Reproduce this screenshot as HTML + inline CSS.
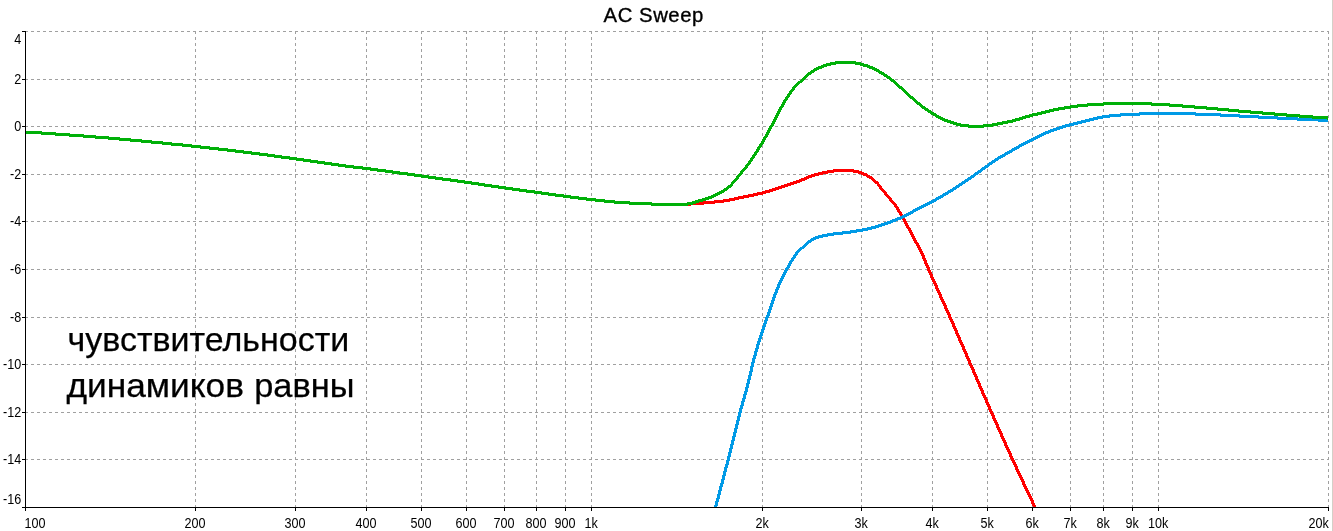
<!DOCTYPE html>
<html lang="ru"><head><meta charset="utf-8"><title>AC Sweep</title>
<style>
html,body{margin:0;padding:0;background:#fff;}
body{width:1333px;height:531px;overflow:hidden;position:relative;font-family:"Liberation Sans",sans-serif;}
svg{position:absolute;left:0;top:0;display:block;}
.grid line{stroke:#a0a0a0;stroke-width:1;stroke-dasharray:3 3;shape-rendering:crispEdges;}
.axis line{stroke:#000;stroke-width:1;shape-rendering:crispEdges;}
.lbl text{font-family:"Liberation Sans",sans-serif;font-size:14px;fill:#000;}
.curve{stroke:none;shape-rendering:crispEdges;}
.title{font-family:"Liberation Sans",sans-serif;font-size:20.3px;fill:#000;letter-spacing:0.55px;stroke:#000;stroke-width:0.35px;}
.note{font-family:"Liberation Sans","DejaVu Sans",sans-serif;font-size:33.2px;fill:#000;stroke:#000;stroke-width:0.25px;}
</style></head><body>
<svg width="1333" height="531" viewBox="0 0 1333 531">
<rect x="0" y="0" width="1333" height="531" fill="#ffffff"/>
<rect x="1332" y="0" width="1" height="531" fill="#d4d0c8" shape-rendering="crispEdges"/>
<g class="grid">
<line x1="25" y1="31.5" x2="1329" y2="31.5"/>
<line x1="25" y1="79.5" x2="1329" y2="79.5"/>
<line x1="25" y1="126.5" x2="1329" y2="126.5"/>
<line x1="25" y1="174.5" x2="1329" y2="174.5"/>
<line x1="25" y1="221.5" x2="1329" y2="221.5"/>
<line x1="25" y1="269.5" x2="1329" y2="269.5"/>
<line x1="25" y1="317.5" x2="1329" y2="317.5"/>
<line x1="25" y1="364.5" x2="1329" y2="364.5"/>
<line x1="25" y1="412.5" x2="1329" y2="412.5"/>
<line x1="25" y1="459.5" x2="1329" y2="459.5"/>
<line x1="195.5" y1="31" x2="195.5" y2="507"/>
<line x1="295.5" y1="31" x2="295.5" y2="507"/>
<line x1="366.5" y1="31" x2="366.5" y2="507"/>
<line x1="421.5" y1="31" x2="421.5" y2="507"/>
<line x1="466.5" y1="31" x2="466.5" y2="507"/>
<line x1="504.5" y1="31" x2="504.5" y2="507"/>
<line x1="536.5" y1="31" x2="536.5" y2="507"/>
<line x1="565.5" y1="31" x2="565.5" y2="507"/>
<line x1="591.5" y1="31" x2="591.5" y2="507"/>
<line x1="762.5" y1="31" x2="762.5" y2="507"/>
<line x1="861.5" y1="31" x2="861.5" y2="507"/>
<line x1="932.5" y1="31" x2="932.5" y2="507"/>
<line x1="987.5" y1="31" x2="987.5" y2="507"/>
<line x1="1032.5" y1="31" x2="1032.5" y2="507"/>
<line x1="1070.5" y1="31" x2="1070.5" y2="507"/>
<line x1="1103.5" y1="31" x2="1103.5" y2="507"/>
<line x1="1132.5" y1="31" x2="1132.5" y2="507"/>
<line x1="1158.5" y1="31" x2="1158.5" y2="507"/>
<line x1="1328.5" y1="31" x2="1328.5" y2="507"/>
</g>
<g class="axis">
<line x1="25.5" y1="31" x2="25.5" y2="511"/>
<line x1="22" y1="507.5" x2="1329" y2="507.5"/>
<line x1="22" y1="31.5" x2="26" y2="31.5"/>
<line x1="22" y1="79.5" x2="26" y2="79.5"/>
<line x1="22" y1="126.5" x2="26" y2="126.5"/>
<line x1="22" y1="174.5" x2="26" y2="174.5"/>
<line x1="22" y1="221.5" x2="26" y2="221.5"/>
<line x1="22" y1="269.5" x2="26" y2="269.5"/>
<line x1="22" y1="317.5" x2="26" y2="317.5"/>
<line x1="22" y1="364.5" x2="26" y2="364.5"/>
<line x1="22" y1="412.5" x2="26" y2="412.5"/>
<line x1="22" y1="459.5" x2="26" y2="459.5"/>
<line x1="195.5" y1="507" x2="195.5" y2="511"/>
<line x1="295.5" y1="507" x2="295.5" y2="511"/>
<line x1="366.5" y1="507" x2="366.5" y2="511"/>
<line x1="421.5" y1="507" x2="421.5" y2="511"/>
<line x1="466.5" y1="507" x2="466.5" y2="511"/>
<line x1="504.5" y1="507" x2="504.5" y2="511"/>
<line x1="536.5" y1="507" x2="536.5" y2="511"/>
<line x1="565.5" y1="507" x2="565.5" y2="511"/>
<line x1="591.5" y1="507" x2="591.5" y2="511"/>
<line x1="762.5" y1="507" x2="762.5" y2="511"/>
<line x1="861.5" y1="507" x2="861.5" y2="511"/>
<line x1="932.5" y1="507" x2="932.5" y2="511"/>
<line x1="987.5" y1="507" x2="987.5" y2="511"/>
<line x1="1032.5" y1="507" x2="1032.5" y2="511"/>
<line x1="1070.5" y1="507" x2="1070.5" y2="511"/>
<line x1="1103.5" y1="507" x2="1103.5" y2="511"/>
<line x1="1132.5" y1="507" x2="1132.5" y2="511"/>
<line x1="1158.5" y1="507" x2="1158.5" y2="511"/>
<line x1="1328.5" y1="507" x2="1328.5" y2="511"/>
</g>
<clipPath id="plot"><rect x="25" y="31" width="1304" height="476"/></clipPath>
<g clip-path="url(#plot)">
<path class="curve" fill="#ff0000" d="M26 131h16v1h-16zM26 132h30v1h-30zM26 133h44v1h-44zM41 134h43v1h-43zM55 135h41v1h-41zM69 136h40v1h-40zM83 137h37v1h-37zM95 138h36v1h-36zM108 139h34v1h-34zM119 140h33v1h-33zM130 141h33v1h-33zM141 142h31v1h-31zM151 143h32v1h-32zM162 144h30v1h-30zM171 145h30v1h-30zM182 146h28v1h-28zM191 147h28v1h-28zM200 148h28v1h-28zM209 149h27v1h-27zM218 150h26v1h-26zM227 151h25v1h-25zM235 152h25v1h-25zM243 153h25v1h-25zM251 154h24v1h-24zM259 155h23v1h-23zM267 156h23v1h-23zM274 157h23v1h-23zM281 158h23v1h-23zM289 159h22v1h-22zM296 160h22v1h-22zM303 161h22v1h-22zM310 162h22v1h-22zM317 163h22v1h-22zM324 164h22v1h-22zM331 165h23v1h-23zM338 166h25v1h-25zM345 167h26v1h-26zM353 168h25v1h-25zM362 169h24v1h-24zM833 169h21v1h-21zM370 170h23v1h-23zM827 170h32v1h-32zM377 171h23v1h-23zM822 171h40v1h-40zM385 172h23v1h-23zM818 172h16v1h-16zM853 172h11v1h-11zM392 173h23v1h-23zM814 173h14v1h-14zM858 173h9v1h-9zM399 174h23v1h-23zM811 174h12v1h-12zM861 174h7v1h-7zM407 175h22v1h-22zM808 175h11v1h-11zM863 175h7v1h-7zM414 176h22v1h-22zM806 176h9v1h-9zM866 176h6v1h-6zM421 177h22v1h-22zM804 177h8v1h-8zM867 177h6v1h-6zM428 178h23v1h-23zM801 178h8v1h-8zM869 178h5v1h-5zM435 179h23v1h-23zM799 179h8v1h-8zM871 179h4v1h-4zM442 180h23v1h-23zM796 180h9v1h-9zM872 180h4v1h-4zM450 181h22v1h-22zM793 181h9v1h-9zM873 181h5v1h-5zM457 182h22v1h-22zM790 182h10v1h-10zM874 182h5v1h-5zM464 183h21v1h-21zM787 183h10v1h-10zM875 183h4v1h-4zM471 184h21v1h-21zM784 184h10v1h-10zM877 184h3v1h-3zM478 185h21v1h-21zM781 185h10v1h-10zM877 185h4v1h-4zM484 186h22v1h-22zM778 186h10v1h-10zM878 186h4v1h-4zM491 187h22v1h-22zM775 187h10v1h-10zM879 187h3v1h-3zM498 188h22v1h-22zM772 188h10v1h-10zM879 188h4v1h-4zM505 189h22v1h-22zM769 189h10v1h-10zM880 189h4v1h-4zM512 190h23v1h-23zM765 190h11v1h-11zM881 190h4v1h-4zM519 191h23v1h-23zM762 191h11v1h-11zM882 191h4v1h-4zM526 192h23v1h-23zM757 192h13v1h-13zM883 192h4v1h-4zM534 193h22v1h-22zM753 193h13v1h-13zM884 193h3v1h-3zM541 194h23v1h-23zM748 194h15v1h-15zM884 194h4v1h-4zM548 195h23v1h-23zM743 195h15v1h-15zM885 195h4v1h-4zM555 196h24v1h-24zM738 196h16v1h-16zM886 196h4v1h-4zM563 197h24v1h-24zM734 197h15v1h-15zM887 197h4v1h-4zM570 198h26v1h-26zM729 198h15v1h-15zM888 198h4v1h-4zM578 199h27v1h-27zM723 199h16v1h-16zM889 199h3v1h-3zM586 200h29v1h-29zM714 200h21v1h-21zM889 200h4v1h-4zM595 201h35v1h-35zM703 201h27v1h-27zM890 201h4v1h-4zM604 202h48v1h-48zM690 202h34v1h-34zM891 202h4v1h-4zM614 203h101v1h-101zM892 203h4v1h-4zM629 204h75v1h-75zM893 204h4v1h-4zM651 205h40v1h-40zM894 205h3v1h-3zM894 206h4v1h-4zM895 207h4v1h-4zM896 208h3v1h-3zM896 209h4v1h-4zM897 210h3v1h-3zM897 211h4v1h-4zM898 212h4v1h-4zM899 213h3v1h-3zM899 214h4v1h-4zM900 215h3v1h-3zM900 216h4v1h-4zM901 217h4v1h-4zM902 218h3v1h-3zM902 219h4v1h-4zM903 220h3v1h-3zM903 221h4v1h-4zM904 222h3v1h-3zM904 223h4v1h-4zM905 224h3v1h-3zM905 225h4v1h-4zM906 226h3v1h-3zM906 227h4v1h-4zM907 228h4v1h-4zM908 229h3v1h-3zM908 230h4v1h-4zM909 231h3v1h-3zM909 232h4v1h-4zM910 233h3v1h-3zM910 234h4v1h-4zM911 235h3v1h-3zM911 236h4v1h-4zM912 237h3v1h-3zM912 238h4v1h-4zM913 239h3v1h-3zM913 240h4v1h-4zM914 241h3v1h-3zM914 242h4v1h-4zM915 243h4v1h-4zM916 244h3v1h-3zM916 245h4v1h-4zM917 246h3v1h-3zM917 247h4v1h-4zM918 248h3v1h-3zM918 249h4v1h-4zM919 250h3v1h-3zM919 251h4v1h-4zM920 252h3v1h-3zM920 253h4v1h-4zM921 254h3v1h-3zM921 255h4v1h-4zM922 256h3v2h-3zM922 258h4v1h-4zM923 259h3v1h-3zM923 260h4v1h-4zM924 261h3v2h-3zM924 263h4v1h-4zM925 264h3v1h-3zM925 265h4v1h-4zM926 266h3v1h-3zM926 267h4v1h-4zM927 268h3v2h-3zM927 270h4v1h-4zM928 271h3v1h-3zM928 272h4v1h-4zM929 273h3v1h-3zM929 274h4v1h-4zM930 275h3v2h-3zM930 277h4v1h-4zM931 278h3v1h-3zM931 279h4v1h-4zM932 280h3v1h-3zM932 281h4v1h-4zM933 282h3v1h-3zM933 283h4v1h-4zM934 284h3v1h-3zM934 285h4v1h-4zM935 286h3v2h-3zM935 288h4v1h-4zM936 289h3v1h-3zM936 290h4v1h-4zM937 291h3v1h-3zM937 292h4v1h-4zM938 293h3v1h-3zM938 294h4v1h-4zM939 295h3v2h-3zM939 297h4v1h-4zM940 298h3v1h-3zM940 299h4v1h-4zM941 300h3v1h-3zM941 301h4v1h-4zM942 302h3v1h-3zM942 303h4v1h-4zM943 304h3v1h-3zM943 305h4v1h-4zM944 306h3v2h-3zM944 308h4v1h-4zM945 309h3v1h-3zM945 310h4v1h-4zM946 311h3v1h-3zM946 312h4v1h-4zM947 313h3v1h-3zM947 314h4v1h-4zM948 315h3v2h-3zM948 317h4v1h-4zM949 318h3v1h-3zM949 319h4v1h-4zM950 320h3v1h-3zM950 321h4v1h-4zM951 322h3v1h-3zM951 323h4v1h-4zM952 324h3v2h-3zM952 326h4v1h-4zM953 327h3v1h-3zM953 328h4v1h-4zM954 329h3v1h-3zM954 330h4v1h-4zM955 331h3v2h-3zM955 333h4v1h-4zM956 334h3v1h-3zM956 335h4v1h-4zM957 336h3v1h-3zM957 337h4v1h-4zM958 338h3v2h-3zM958 340h4v1h-4zM959 341h3v1h-3zM959 342h4v1h-4zM960 343h3v1h-3zM960 344h4v1h-4zM961 345h3v1h-3zM961 346h4v1h-4zM962 347h3v2h-3zM962 349h4v1h-4zM963 350h3v1h-3zM963 351h4v1h-4zM964 352h3v1h-3zM964 353h4v1h-4zM965 354h3v2h-3zM965 356h4v1h-4zM966 357h3v1h-3zM966 358h4v1h-4zM967 359h3v1h-3zM967 360h4v1h-4zM968 361h3v2h-3zM968 363h4v1h-4zM969 364h3v1h-3zM969 365h4v1h-4zM970 366h3v1h-3zM970 367h4v1h-4zM971 368h3v1h-3zM971 369h4v1h-4zM972 370h3v2h-3zM972 372h4v1h-4zM973 373h3v1h-3zM973 374h4v1h-4zM974 375h3v1h-3zM974 376h4v1h-4zM975 377h3v2h-3zM975 379h4v1h-4zM976 380h3v1h-3zM976 381h4v1h-4zM977 382h3v1h-3zM977 383h4v1h-4zM978 384h3v2h-3zM978 386h4v1h-4zM979 387h3v1h-3zM979 388h4v1h-4zM980 389h3v1h-3zM980 390h4v1h-4zM981 391h3v2h-3zM981 393h4v1h-4zM982 394h3v1h-3zM982 395h4v1h-4zM983 396h3v1h-3zM983 397h4v1h-4zM984 398h3v1h-3zM984 399h4v1h-4zM985 400h3v2h-3zM985 402h4v1h-4zM986 403h3v1h-3zM986 404h4v1h-4zM987 405h3v1h-3zM987 406h4v1h-4zM988 407h3v2h-3zM988 409h4v1h-4zM989 410h3v1h-3zM989 411h4v1h-4zM990 412h3v1h-3zM990 413h4v1h-4zM991 414h3v1h-3zM991 415h4v1h-4zM992 416h3v2h-3zM992 418h4v1h-4zM993 419h3v1h-3zM993 420h4v1h-4zM994 421h3v1h-3zM994 422h4v1h-4zM995 423h3v1h-3zM995 424h4v1h-4zM996 425h3v2h-3zM996 427h4v1h-4zM997 428h3v1h-3zM997 429h4v1h-4zM998 430h3v1h-3zM998 431h4v1h-4zM999 432h3v1h-3zM999 433h4v1h-4zM1000 434h3v2h-3zM1000 436h4v1h-4zM1001 437h3v1h-3zM1001 438h4v1h-4zM1002 439h3v1h-3zM1002 440h4v1h-4zM1003 441h3v1h-3zM1003 442h4v1h-4zM1004 443h3v2h-3zM1004 445h4v1h-4zM1005 446h3v1h-3zM1005 447h4v1h-4zM1006 448h3v1h-3zM1006 449h4v1h-4zM1007 450h3v1h-3zM1007 451h4v1h-4zM1008 452h3v1h-3zM1008 453h4v1h-4zM1009 454h3v2h-3zM1009 456h4v1h-4zM1010 457h3v1h-3zM1010 458h4v1h-4zM1011 459h3v1h-3zM1011 460h4v1h-4zM1012 461h3v1h-3zM1012 462h4v1h-4zM1013 463h3v1h-3zM1013 464h4v1h-4zM1014 465h3v1h-3zM1014 466h4v1h-4zM1015 467h3v2h-3zM1015 469h4v1h-4zM1016 470h3v1h-3zM1016 471h4v1h-4zM1017 472h3v1h-3zM1017 473h4v1h-4zM1018 474h3v1h-3zM1018 475h4v1h-4zM1019 476h3v1h-3zM1019 477h4v1h-4zM1020 478h3v1h-3zM1020 479h4v1h-4zM1021 480h3v1h-3zM1021 481h4v1h-4zM1022 482h3v2h-3zM1022 484h4v1h-4zM1023 485h3v1h-3zM1023 486h4v1h-4zM1024 487h3v1h-3zM1024 488h4v1h-4zM1025 489h3v1h-3zM1025 490h4v1h-4zM1026 491h3v1h-3zM1026 492h4v1h-4zM1027 493h3v1h-3zM1027 494h4v1h-4zM1028 495h3v1h-3zM1028 496h4v1h-4zM1029 497h3v1h-3zM1029 498h4v1h-4zM1030 499h3v1h-3zM1030 500h4v1h-4zM1031 501h3v2h-3zM1031 503h4v1h-4zM1032 504h3v1h-3zM1032 505h4v1h-4zM1033 506h3v1h-3z"/>
<path class="curve" fill="#009ae6" d="M1139 112h57v1h-57zM1120 113h101v1h-101zM1109 114h131v1h-131zM1102 115h38v1h-38zM1195 115h64v1h-64zM1097 116h24v1h-24zM1220 116h58v1h-58zM1093 117h17v1h-17zM1239 117h59v1h-59zM1089 118h14v1h-14zM1258 118h61v1h-61zM1085 119h13v1h-13zM1277 119h51v1h-51zM1081 120h13v1h-13zM1297 120h31v1h-31zM1077 121h13v1h-13zM1318 121h10v1h-10zM1073 122h13v1h-13zM1069 123h13v1h-13zM1065 124h13v1h-13zM1062 125h12v1h-12zM1059 126h11v1h-11zM1056 127h10v1h-10zM1053 128h10v1h-10zM1050 129h10v1h-10zM1048 130h9v1h-9zM1045 131h9v1h-9zM1043 132h8v1h-8zM1041 133h8v1h-8zM1039 134h7v1h-7zM1037 135h7v1h-7zM1035 136h7v1h-7zM1033 137h7v1h-7zM1031 138h7v1h-7zM1029 139h7v1h-7zM1027 140h7v1h-7zM1025 141h7v1h-7zM1023 142h7v1h-7zM1021 143h7v1h-7zM1019 144h7v1h-7zM1018 145h6v1h-6zM1016 146h6v1h-6zM1014 147h6v1h-6zM1012 148h7v1h-7zM1011 149h6v1h-6zM1009 150h6v1h-6zM1007 151h6v1h-6zM1005 152h7v1h-7zM1004 153h6v1h-6zM1002 154h6v1h-6zM1000 155h6v1h-6zM998 156h7v1h-7zM997 157h6v1h-6zM995 158h6v1h-6zM994 159h5v1h-5zM992 160h6v1h-6zM991 161h5v1h-5zM989 162h6v1h-6zM988 163h5v1h-5zM987 164h5v1h-5zM985 165h5v1h-5zM984 166h5v1h-5zM982 167h6v1h-6zM981 168h5v1h-5zM980 169h5v1h-5zM978 170h5v1h-5zM977 171h5v1h-5zM975 172h6v1h-6zM974 173h5v1h-5zM973 174h5v1h-5zM971 175h5v1h-5zM970 176h5v1h-5zM968 177h6v1h-6zM967 178h5v1h-5zM965 179h6v1h-6zM964 180h5v1h-5zM962 181h6v1h-6zM961 182h5v1h-5zM959 183h6v1h-6zM958 184h5v1h-5zM956 185h6v1h-6zM955 186h5v1h-5zM953 187h6v1h-6zM952 188h5v1h-5zM950 189h6v1h-6zM948 190h6v1h-6zM947 191h6v1h-6zM945 192h6v1h-6zM943 193h6v1h-6zM942 194h6v1h-6zM940 195h6v1h-6zM938 196h6v1h-6zM936 197h7v1h-7zM935 198h6v1h-6zM933 199h6v1h-6zM931 200h6v1h-6zM929 201h7v1h-7zM927 202h7v1h-7zM925 203h7v1h-7zM923 204h7v1h-7zM921 205h7v1h-7zM919 206h7v1h-7zM917 207h7v1h-7zM915 208h7v1h-7zM913 209h7v1h-7zM912 210h6v1h-6zM910 211h6v1h-6zM908 212h6v1h-6zM906 213h7v1h-7zM904 214h7v1h-7zM902 215h7v1h-7zM900 216h7v1h-7zM897 217h8v1h-8zM895 218h8v1h-8zM892 219h9v1h-9zM890 220h8v1h-8zM887 221h9v1h-9zM884 222h9v1h-9zM881 223h10v1h-10zM878 224h10v1h-10zM875 225h10v1h-10zM871 226h11v1h-11zM867 227h12v1h-12zM862 228h14v1h-14zM856 229h16v1h-16zM850 230h18v1h-18zM842 231h21v1h-21zM833 232h24v1h-24zM827 233h24v1h-24zM822 234h21v1h-21zM818 235h16v1h-16zM815 236h13v1h-13zM813 237h10v1h-10zM811 238h8v1h-8zM810 239h6v1h-6zM808 240h6v1h-6zM807 241h5v1h-5zM806 242h5v1h-5zM805 243h4v1h-4zM804 244h4v1h-4zM803 245h4v1h-4zM802 246h4v1h-4zM800 247h5v1h-5zM799 248h5v1h-5zM798 249h4v1h-4zM797 250h4v1h-4zM796 251h4v1h-4zM795 252h4v1h-4zM795 253h3v1h-3zM794 254h4v1h-4zM793 255h4v1h-4zM793 256h3v1h-3zM792 257h4v1h-4zM791 258h4v1h-4zM791 259h3v1h-3zM790 260h4v1h-4zM789 261h4v1h-4zM789 262h3v1h-3zM788 263h4v1h-4zM788 264h3v1h-3zM787 265h4v1h-4zM787 266h3v1h-3zM786 267h4v1h-4zM785 268h4v1h-4zM785 269h3v1h-3zM784 270h4v1h-4zM784 271h3v1h-3zM783 272h4v1h-4zM783 273h3v1h-3zM782 274h4v1h-4zM782 275h3v1h-3zM781 276h4v1h-4zM781 277h3v1h-3zM780 278h4v1h-4zM780 279h3v1h-3zM779 280h4v1h-4zM779 281h3v1h-3zM778 282h4v1h-4zM778 283h3v1h-3zM777 284h4v1h-4zM777 285h3v2h-3zM776 287h4v1h-4zM776 288h3v1h-3zM775 289h4v1h-4zM775 290h3v2h-3zM774 292h4v1h-4zM774 293h3v1h-3zM773 294h4v1h-4zM773 295h3v2h-3zM772 297h4v1h-4zM772 298h3v2h-3zM771 300h4v1h-4zM771 301h3v2h-3zM770 303h4v1h-4zM770 304h3v2h-3zM769 306h4v1h-4zM769 307h3v2h-3zM768 309h4v1h-4zM768 310h3v2h-3zM767 312h4v1h-4zM767 313h3v2h-3zM766 315h4v1h-4zM766 316h3v1h-3zM765 317h4v1h-4zM765 318h3v2h-3zM764 320h4v1h-4zM764 321h3v2h-3zM763 323h4v1h-4zM763 324h3v2h-3zM762 326h4v1h-4zM762 327h3v2h-3zM761 329h4v1h-4zM761 330h3v2h-3zM760 332h4v1h-4zM760 333h3v2h-3zM759 335h4v1h-4zM759 336h3v2h-3zM758 338h4v1h-4zM758 339h3v2h-3zM757 341h4v1h-4zM757 342h3v2h-3zM756 344h4v1h-4zM756 345h3v3h-3zM755 348h4v1h-4zM755 349h3v2h-3zM754 351h4v1h-4zM754 352h3v3h-3zM753 355h4v1h-4zM753 356h3v2h-3zM752 358h4v1h-4zM752 359h3v3h-3zM751 362h4v1h-4zM751 363h3v3h-3zM750 366h4v1h-4zM750 367h3v4h-3zM749 371h4v1h-4zM749 372h3v3h-3zM748 375h4v1h-4zM748 376h3v3h-3zM747 379h4v1h-4zM747 380h3v3h-3zM746 383h4v1h-4zM746 384h3v3h-3zM745 387h4v1h-4zM745 388h3v3h-3zM744 391h4v1h-4zM744 392h3v2h-3zM743 394h4v1h-4zM743 395h3v3h-3zM742 398h4v1h-4zM742 399h3v2h-3zM741 401h4v1h-4zM741 402h3v3h-3zM740 405h4v1h-4zM740 406h3v2h-3zM739 408h4v1h-4zM739 409h3v3h-3zM738 412h4v1h-4zM738 413h3v3h-3zM737 416h4v1h-4zM737 417h3v3h-3zM736 420h4v1h-4zM736 421h3v3h-3zM735 424h4v1h-4zM735 425h3v3h-3zM734 428h4v1h-4zM734 429h3v3h-3zM733 432h4v1h-4zM733 433h3v3h-3zM732 436h4v1h-4zM732 437h3v3h-3zM731 440h4v1h-4zM731 441h3v3h-3zM730 444h4v1h-4zM730 445h3v3h-3zM729 448h4v1h-4zM729 449h3v3h-3zM728 452h4v1h-4zM728 453h3v3h-3zM727 456h4v1h-4zM727 457h3v3h-3zM726 460h4v1h-4zM726 461h3v3h-3zM725 464h4v1h-4zM725 465h3v2h-3zM724 467h4v1h-4zM724 468h3v3h-3zM723 471h4v1h-4zM723 472h3v3h-3zM722 475h4v1h-4zM722 476h3v3h-3zM721 479h4v1h-4zM721 480h3v3h-3zM720 483h4v1h-4zM720 484h3v2h-3zM719 486h4v1h-4zM719 487h3v3h-3zM718 490h4v1h-4zM718 491h3v3h-3zM717 494h4v1h-4zM717 495h3v3h-3zM716 498h4v1h-4zM716 499h3v2h-3zM715 501h4v1h-4zM715 502h3v3h-3zM714 505h4v1h-4zM714 506h3v1h-3z"/>
<path class="curve" fill="#00b008" d="M835 61h21v1h-21zM830 62h31v1h-31zM826 63h38v1h-38zM823 64h13v1h-13zM855 64h13v1h-13zM821 65h10v1h-10zM860 65h10v1h-10zM818 66h9v1h-9zM863 66h10v1h-10zM816 67h8v1h-8zM867 67h8v1h-8zM814 68h8v1h-8zM869 68h8v1h-8zM813 69h6v1h-6zM872 69h7v1h-7zM811 70h6v1h-6zM874 70h6v1h-6zM810 71h5v1h-5zM876 71h6v1h-6zM808 72h6v1h-6zM878 72h6v1h-6zM807 73h5v1h-5zM879 73h6v1h-6zM806 74h5v1h-5zM881 74h6v1h-6zM805 75h4v1h-4zM883 75h5v1h-5zM804 76h4v1h-4zM884 76h6v1h-6zM803 77h4v1h-4zM886 77h5v1h-5zM802 78h4v1h-4zM887 78h5v1h-5zM801 79h4v1h-4zM889 79h5v1h-5zM800 80h4v1h-4zM890 80h5v1h-5zM798 81h5v1h-5zM891 81h5v1h-5zM797 82h5v1h-5zM893 82h4v1h-4zM796 83h4v1h-4zM894 83h4v1h-4zM795 84h4v1h-4zM895 84h4v1h-4zM794 85h4v1h-4zM896 85h4v1h-4zM793 86h4v1h-4zM897 86h5v1h-5zM792 87h4v1h-4zM898 87h5v1h-5zM792 88h3v1h-3zM899 88h5v1h-5zM791 89h4v1h-4zM901 89h4v1h-4zM790 90h4v1h-4zM902 90h4v1h-4zM789 91h4v1h-4zM903 91h4v1h-4zM789 92h3v1h-3zM904 92h4v1h-4zM788 93h4v1h-4zM905 93h4v1h-4zM787 94h4v1h-4zM906 94h4v1h-4zM787 95h3v1h-3zM907 95h4v1h-4zM786 96h4v1h-4zM908 96h5v1h-5zM785 97h4v1h-4zM909 97h5v1h-5zM785 98h3v1h-3zM910 98h5v1h-5zM784 99h4v1h-4zM912 99h4v1h-4zM783 100h4v1h-4zM913 100h4v1h-4zM783 101h3v1h-3zM914 101h4v1h-4zM782 102h4v1h-4zM915 102h5v1h-5zM1103 102h49v1h-49zM782 103h3v1h-3zM916 103h5v1h-5zM1087 103h83v1h-83zM781 104h4v1h-4zM917 104h5v1h-5zM1077 104h106v1h-106zM781 105h3v1h-3zM919 105h4v1h-4zM1070 105h34v1h-34zM1151 105h44v1h-44zM780 106h4v1h-4zM920 106h5v1h-5zM1064 106h24v1h-24zM1169 106h38v1h-38zM779 107h4v1h-4zM921 107h5v1h-5zM1058 107h20v1h-20zM1182 107h36v1h-36zM779 108h3v1h-3zM922 108h6v1h-6zM1053 108h18v1h-18zM1194 108h35v1h-35zM778 109h4v1h-4zM924 109h5v1h-5zM1049 109h16v1h-16zM1206 109h33v1h-33zM778 110h3v1h-3zM925 110h6v1h-6zM1045 110h14v1h-14zM1217 110h34v1h-34zM777 111h4v1h-4zM927 111h5v1h-5zM1041 111h13v1h-13zM1228 111h35v1h-35zM777 112h3v1h-3zM928 112h6v1h-6zM1037 112h13v1h-13zM1238 112h37v1h-37zM776 113h4v1h-4zM930 113h6v1h-6zM1032 113h14v1h-14zM1250 113h37v1h-37zM776 114h3v1h-3zM931 114h6v1h-6zM1029 114h13v1h-13zM1262 114h38v1h-38zM775 115h4v1h-4zM933 115h6v1h-6zM1025 115h13v1h-13zM1274 115h39v1h-39zM775 116h3v1h-3zM935 116h6v1h-6zM1022 116h11v1h-11zM1286 116h42v1h-42zM774 117h4v1h-4zM936 117h7v1h-7zM1019 117h11v1h-11zM1299 117h29v1h-29zM774 118h3v1h-3zM938 118h7v1h-7zM1015 118h11v1h-11zM1312 118h16v1h-16zM773 119h4v1h-4zM940 119h8v1h-8zM1012 119h11v1h-11zM1327 119h1v1h-1zM773 120h3v1h-3zM942 120h9v1h-9zM1007 120h13v1h-13zM772 121h4v1h-4zM944 121h10v1h-10zM1002 121h14v1h-14zM772 122h3v1h-3zM947 122h10v1h-10zM997 122h16v1h-16zM771 123h4v1h-4zM950 123h11v1h-11zM992 123h16v1h-16zM771 124h3v1h-3zM953 124h16v1h-16zM983 124h20v1h-20zM770 125h4v1h-4zM956 125h42v1h-42zM769 126h4v1h-4zM960 126h33v1h-33zM769 127h3v1h-3zM968 127h16v1h-16zM768 128h4v1h-4zM768 129h3v1h-3zM767 130h4v1h-4zM26 131h16v1h-16zM767 131h3v1h-3zM26 132h30v1h-30zM766 132h4v1h-4zM26 133h44v1h-44zM766 133h3v1h-3zM41 134h43v1h-43zM765 134h4v1h-4zM55 135h41v1h-41zM765 135h3v1h-3zM69 136h40v1h-40zM764 136h4v1h-4zM83 137h37v1h-37zM763 137h4v1h-4zM95 138h36v1h-36zM763 138h3v1h-3zM108 139h34v1h-34zM762 139h4v1h-4zM119 140h33v1h-33zM762 140h3v1h-3zM130 141h33v1h-33zM761 141h4v1h-4zM141 142h31v1h-31zM761 142h3v1h-3zM151 143h32v1h-32zM760 143h4v1h-4zM162 144h30v1h-30zM759 144h4v1h-4zM171 145h30v1h-30zM759 145h3v1h-3zM182 146h28v1h-28zM758 146h4v1h-4zM191 147h28v1h-28zM757 147h4v1h-4zM200 148h28v1h-28zM757 148h3v1h-3zM209 149h27v1h-27zM756 149h4v1h-4zM218 150h26v1h-26zM756 150h3v1h-3zM227 151h25v1h-25zM755 151h4v1h-4zM235 152h25v1h-25zM754 152h4v1h-4zM243 153h25v1h-25zM754 153h3v1h-3zM251 154h24v1h-24zM753 154h4v1h-4zM259 155h23v1h-23zM752 155h4v1h-4zM267 156h23v1h-23zM752 156h3v1h-3zM274 157h23v1h-23zM751 157h4v1h-4zM281 158h23v1h-23zM750 158h4v1h-4zM289 159h22v1h-22zM750 159h3v1h-3zM296 160h22v1h-22zM749 160h4v1h-4zM303 161h22v1h-22zM748 161h4v1h-4zM310 162h22v1h-22zM748 162h3v1h-3zM317 163h22v1h-22zM747 163h4v1h-4zM324 164h22v1h-22zM746 164h4v1h-4zM331 165h23v1h-23zM745 165h4v1h-4zM338 166h25v1h-25zM745 166h3v1h-3zM345 167h26v1h-26zM744 167h4v1h-4zM353 168h25v1h-25zM743 168h4v1h-4zM362 169h24v1h-24zM742 169h4v1h-4zM370 170h23v1h-23zM741 170h4v1h-4zM377 171h23v1h-23zM740 171h4v1h-4zM385 172h23v1h-23zM740 172h3v1h-3zM392 173h23v1h-23zM739 173h4v1h-4zM399 174h23v1h-23zM738 174h4v1h-4zM407 175h22v1h-22zM737 175h4v1h-4zM414 176h22v1h-22zM736 176h4v1h-4zM421 177h22v1h-22zM736 177h3v1h-3zM428 178h23v1h-23zM735 178h4v1h-4zM435 179h23v1h-23zM734 179h4v1h-4zM442 180h23v1h-23zM733 180h4v1h-4zM450 181h22v1h-22zM732 181h4v1h-4zM457 182h22v1h-22zM731 182h4v1h-4zM464 183h21v1h-21zM731 183h3v1h-3zM471 184h21v1h-21zM730 184h3v1h-3zM478 185h21v1h-21zM728 185h5v1h-5zM484 186h22v1h-22zM727 186h5v1h-5zM491 187h22v1h-22zM726 187h5v1h-5zM498 188h22v1h-22zM724 188h5v1h-5zM505 189h22v1h-22zM723 189h5v1h-5zM512 190h23v1h-23zM721 190h6v1h-6zM519 191h23v1h-23zM719 191h6v1h-6zM526 192h23v1h-23zM717 192h7v1h-7zM534 193h22v1h-22zM715 193h7v1h-7zM541 194h23v1h-23zM713 194h7v1h-7zM548 195h23v1h-23zM711 195h7v1h-7zM555 196h24v1h-24zM708 196h8v1h-8zM563 197h24v1h-24zM705 197h9v1h-9zM570 198h26v1h-26zM702 198h10v1h-10zM578 199h27v1h-27zM698 199h11v1h-11zM586 200h29v1h-29zM695 200h11v1h-11zM595 201h35v1h-35zM692 201h11v1h-11zM604 202h48v1h-48zM687 202h12v1h-12zM614 203h82v1h-82zM629 204h64v1h-64zM651 205h37v1h-37z"/>
</g>
<g class="lbl">
<text transform="translate(21.2,44.0) scale(0.9,1)" text-anchor="end">4</text>
<text transform="translate(21.2,84.0) scale(0.9,1)" text-anchor="end">2</text>
<text transform="translate(21.2,131.0) scale(0.9,1)" text-anchor="end">0</text>
<text transform="translate(21.2,179.0) scale(0.9,1)" text-anchor="end">-2</text>
<text transform="translate(21.2,226.0) scale(0.9,1)" text-anchor="end">-4</text>
<text transform="translate(21.2,274.0) scale(0.9,1)" text-anchor="end">-6</text>
<text transform="translate(21.2,322.0) scale(0.9,1)" text-anchor="end">-8</text>
<text transform="translate(21.2,369.0) scale(0.9,1)" text-anchor="end">-10</text>
<text transform="translate(21.2,417.0) scale(0.9,1)" text-anchor="end">-12</text>
<text transform="translate(21.2,464.0) scale(0.9,1)" text-anchor="end">-14</text>
<text transform="translate(21.2,504.0) scale(0.9,1)" text-anchor="end">-16</text>
<text transform="translate(24.5,528) scale(0.9,1)" text-anchor="start">100</text>
<text transform="translate(195.1,528) scale(0.9,1)" text-anchor="middle">200</text>
<text transform="translate(295.1,528) scale(0.9,1)" text-anchor="middle">300</text>
<text transform="translate(366.1,528) scale(0.9,1)" text-anchor="middle">400</text>
<text transform="translate(421.1,528) scale(0.9,1)" text-anchor="middle">500</text>
<text transform="translate(466.1,528) scale(0.9,1)" text-anchor="middle">600</text>
<text transform="translate(504.1,528) scale(0.9,1)" text-anchor="middle">700</text>
<text transform="translate(536.1,528) scale(0.9,1)" text-anchor="middle">800</text>
<text transform="translate(565.1,528) scale(0.9,1)" text-anchor="middle">900</text>
<text transform="translate(591.1,528) scale(0.9,1)" text-anchor="middle">1k</text>
<text transform="translate(762.1,528) scale(0.9,1)" text-anchor="middle">2k</text>
<text transform="translate(861.1,528) scale(0.9,1)" text-anchor="middle">3k</text>
<text transform="translate(932.1,528) scale(0.9,1)" text-anchor="middle">4k</text>
<text transform="translate(987.1,528) scale(0.9,1)" text-anchor="middle">5k</text>
<text transform="translate(1032.1,528) scale(0.9,1)" text-anchor="middle">6k</text>
<text transform="translate(1070.1,528) scale(0.9,1)" text-anchor="middle">7k</text>
<text transform="translate(1103.1,528) scale(0.9,1)" text-anchor="middle">8k</text>
<text transform="translate(1132.1,528) scale(0.9,1)" text-anchor="middle">9k</text>
<text transform="translate(1158.1,528) scale(0.9,1)" text-anchor="middle">10k</text>
<text transform="translate(1328.9,528) scale(0.9,1)" text-anchor="end">20k</text>
</g>
<text class="title" x="603.6" y="21.8">AC Sweep</text>
<text class="note" x="67.6" y="351.2" textLength="281.6" lengthAdjust="spacingAndGlyphs">чувствительности</text>
<text class="note" x="66.4" y="397.3" textLength="177.5" lengthAdjust="spacingAndGlyphs">динамиков</text>
<text class="note" x="254.2" y="397.3" textLength="100.2" lengthAdjust="spacingAndGlyphs">равны</text>
</svg>
</body></html>
